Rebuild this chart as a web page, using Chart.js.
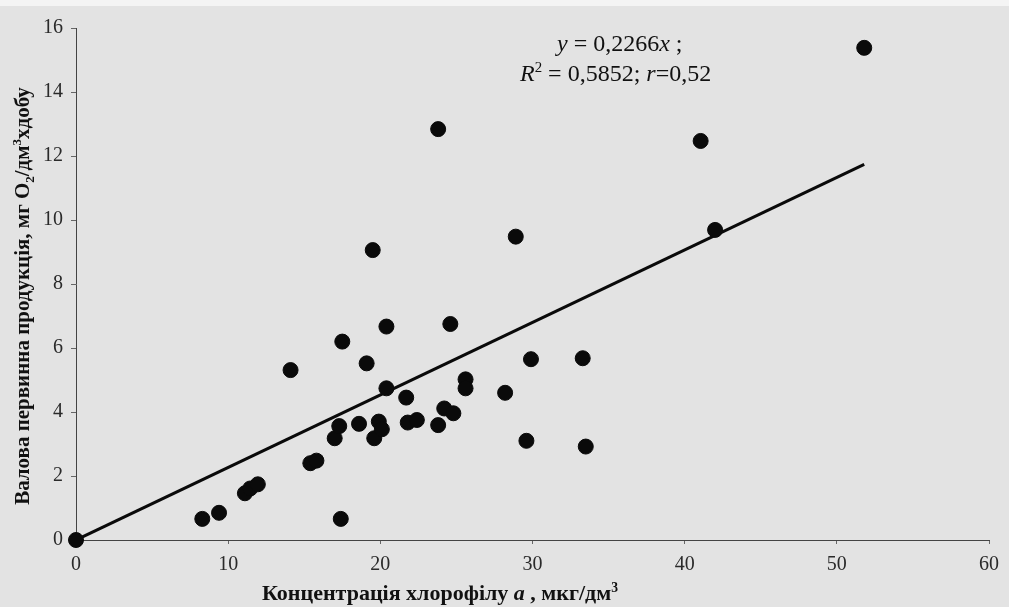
<!DOCTYPE html>
<html>
<head>
<meta charset="utf-8">
<script src="https://cdn.jsdelivr.net/npm/chart.js@4.4.1/dist/chart.umd.min.js"></script>
<style>
  html, body { margin: 0; padding: 0; background: #e3e3e3; }
  #wrap { width: 1009px; height: 607px; position: relative; }
</style>
</head>
<body>
<div id="wrap"><canvas id="chart" width="1009" height="607"></canvas></div>
<script>
// точки: концентрація хлорофілу a (мкг/дм3) та валова первинна продукція
const chlorophyll = [0, 8.3, 9.4, 11.1, 11.45, 11.95, 14.1, 15.4, 15.8, 17.0, 17.3, 17.5, 17.4,
  18.6, 19.1, 19.6, 19.9, 20.1, 20.4, 20.4, 21.7, 21.8, 22.4, 23.8, 24.2, 24.8, 24.6,
  25.6, 25.6, 28.2, 29.6, 29.9, 33.3, 33.5, 28.9, 42.0, 41.05, 23.8, 19.5, 51.8];
const production = [0, 0.66, 0.85, 1.46, 1.61, 1.74, 5.31, 2.40, 2.48, 3.18, 3.56, 6.2, 0.66,
  3.63, 5.52, 3.18, 3.70, 3.46, 6.67, 4.74, 4.45, 3.67, 3.75, 3.59, 4.11, 3.96, 6.75,
  5.02, 4.74, 4.60, 3.10, 5.65, 5.68, 2.92, 9.48, 9.69, 12.47, 12.84, 9.06, 15.38];

// лінія тренду (кінці)
const trendX = [0, 51.8];
const trendY = [0, 11.74];

const xTicks = [0, 10, 20, 30, 40, 50, 60];
const yTicks = [0, 2, 4, 6, 8, 10, 12, 14, 16];

const serif = "'Liberation Serif', 'DejaVu Serif', serif";

// малює рядок з частинами (верхній/нижній індекс, курсив)
function drawParts(ctx, parts, x, y, size, bold) {
  let cx = x;
  parts.forEach(function (p) {
    const s = p.sup || p.sub ? size * 0.62 : size;
    ctx.font = (p.italic ? "italic " : "") + (bold ? "bold " : "") + s + "px " + serif;
    let dy = 0;
    if (p.sup) dy = -size * 0.38;
    if (p.sub) dy = size * 0.22;
    ctx.fillText(p.t, cx, y + dy);
    cx += ctx.measureText(p.t).width;
  });
  return cx - x;
}

function measureParts(ctx, parts, size, bold) {
  let w = 0;
  parts.forEach(function (p) {
    const s = p.sup || p.sub ? size * 0.62 : size;
    ctx.font = (p.italic ? "italic " : "") + (bold ? "bold " : "") + s + "px " + serif;
    w += ctx.measureText(p.t).width;
  });
  return w;
}

const labelsPlugin = {
  id: "labels",
  beforeDraw(chart) {
    const c = chart.ctx;
    c.save();
    c.fillStyle = "#e3e3e3";
    c.fillRect(0, 0, chart.width, chart.height);
    c.fillStyle = "#f4f4f4";
    c.fillRect(0, 0, chart.width, 6);
    c.restore();
  },
  afterDraw(chart) {
    const c = chart.ctx;
    c.save();
    c.fillStyle = "#111";
    c.textBaseline = "alphabetic";

    // підпис осі X
    const xParts = [
      { t: "Концентрація хлорофілу " },
      { t: "a", italic: true },
      { t: " , мкг/дм" },
      { t: "3", sup: true },
    ];
    const xw = measureParts(c, xParts, 22, true);
    drawParts(c, xParts, 440 - xw / 2, 600, 22, true);

    // підпис осі Y
    const yParts = [
      { t: "Валова первинна продукція, мг O" },
      { t: "2", sub: true },
      { t: "/дм" },
      { t: "3", sup: true },
      { t: "хдобу" },
    ];
    const yw = measureParts(c, yParts, 21, true);
    c.save();
    c.translate(29, 296);
    c.rotate(-Math.PI / 2);
    drawParts(c, yParts, -yw / 2, 0, 21, true);
    c.restore();

    // рівняння регресії
    drawParts(c, [
      { t: "y", italic: true },
      { t: " = 0,2266" },
      { t: "x", italic: true },
      { t: " ;" },
    ], 557, 51, 24, false);
    drawParts(c, [
      { t: "R", italic: true },
      { t: "2", sup: true },
      { t: " = 0,5852; " },
      { t: "r", italic: true },
      { t: "=0,52" },
    ], 520, 81, 24, false);

    c.restore();
  },
};

const ctx = document.getElementById("chart").getContext("2d");
const chart = new Chart(ctx, {
  type: "scatter",
  data: {
    datasets: [
      {
        label: "Лінія",
        type: "line",
        data: trendX.map((x, i) => ({ x: x, y: trendY[i] })),
        borderColor: "#0a0a0a",
        borderWidth: 3,
        pointRadius: 0,
        fill: false,
        order: 2,
      },
      {
        label: "Точки",
        data: chlorophyll.map((x, i) => ({ x: x, y: production[i] })),
        backgroundColor: "#0a0a0a",
        borderColor: "#0a0a0a",
        pointRadius: 7.5,
        clip: false,
        order: 1,
      },
    ],
  },
  options: {
    responsive: false,
    animation: false,
    layout: { padding: { top: 28, right: 20, left: 0, bottom: 0 } },
    plugins: {
      legend: { display: false },
      tooltip: { enabled: false },
    },
    scales: {
      x: {
        type: "linear",
        min: 0,
        max: 60,
        afterBuildTicks: (s) => { s.ticks = xTicks.map((v) => ({ value: v })); },
        afterFit: (s) => { s.height = 67; },
        ticks: {
          color: "#2a2a2a",
          padding: 9,
          font: { family: serif, size: 20 },
        },
        grid: { drawOnChartArea: false, drawTicks: true, tickLength: 4, color: "#666" },
        border: { display: true, color: "#444", width: 1, dash: [2, 1.5] },
      },
      y: {
        min: 0,
        max: 16,
        afterBuildTicks: (s) => { s.ticks = yTicks.map((v) => ({ value: v })); },
        afterFit: (s) => { s.width = 76; },
        ticks: {
          color: "#2a2a2a",
          padding: 8,
          font: { family: serif, size: 20 },
        },
        grid: { drawOnChartArea: false, drawTicks: true, tickLength: 5, color: "#666" },
        border: { display: true, color: "#444", width: 1, dash: [2, 1.5] },
      },
    },
  },
  plugins: [labelsPlugin],
});
</script>
</body>
</html>
